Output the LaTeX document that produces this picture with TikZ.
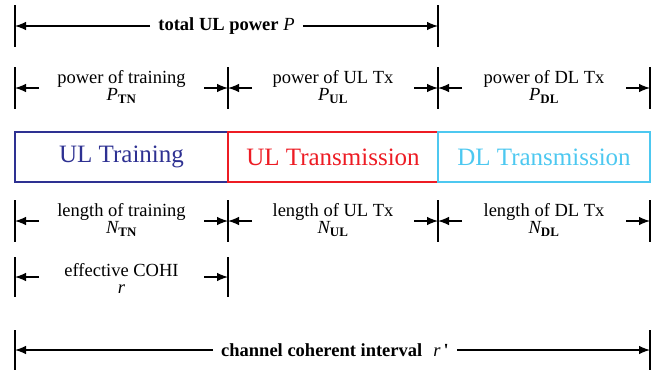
\documentclass[tikz,border=0pt]{standalone}
\usepackage{fontspec}
\setmainfont{Liberation Serif}
\usetikzlibrary{arrows.meta, positioning, calc}
\definecolor{trainblue}{RGB}{46,49,146}
\definecolor{ulred}{RGB}{237,28,36}
\definecolor{dlcyan}{RGB}{77,200,240}
\newcommand{\lblsize}{\fontsize{18.5}{17}\selectfont}
\newcommand{\segsize}{\fontsize{25}{28}\selectfont}
\tikzset{
  bound/.style={line width=1.8pt},
  arr/.style={-{Latex[length=11pt,width=8.5pt]}, line width=1.2pt},
  lbl/.style={align=center, font=\lblsize, inner sep=0pt},
  headlbl/.style={font=\lblsize\bfseries, inner sep=8pt},
  seg/.style={rectangle, line width=1.8pt, minimum height=50pt, font=\segsize, inner sep=0pt},
}
\begin{document}
\begin{tikzpicture}[x=1pt, y=-1pt]
  \useasboundingbox (0,0) rectangle (670,373);
  % segments
  \node[seg, draw=trainblue, text=trainblue, minimum width=213pt] (train) at (121.5,157) {UL Training};
  \node[seg, draw=ulred, text=ulred, minimum width=210pt] (ultx) at (333,157) {UL Transmission};
  \node[seg, draw=dlcyan, text=dlcyan, minimum width=212pt] (dltx) at (544,157) {DL Transmission};
  % total UL power
  \coordinate (ta) at (15,26);
  \coordinate (tb) at (438,26);
  \node[headlbl] (total) at (226.5,26) {total UL power $\mathit{P}$};
  \draw[bound] ([yshift=21pt]ta) -- ([yshift=-21pt]ta);
  \draw[bound] ([yshift=21pt]tb) -- ([yshift=-21pt]tb);
  \draw[arr] (total) -- (ta);
  \draw[arr] (total) -- (tb);
  % powers
  \coordinate (pa) at (15,88);
  \coordinate (pb) at (228,88);
  \coordinate (pc) at (438,88);
  \coordinate (pd) at (650,88);
  \node[lbl] (ptn) at (121.5,87) {power of training\\$\mathit{P}_{\mathbf{TN}}$};
  \node[lbl] (pul) at (333,87) {power of UL Tx\\$\mathit{P}_{\mathbf{UL}}$};
  \node[lbl] (pdl) at (544,87) {power of DL Tx\\$\mathit{P}_{\mathbf{DL}}$};
  \draw[bound] ([yshift=21pt]pa) -- ([yshift=-21pt]pa);
  \draw[bound] ([yshift=21pt]pb) -- ([yshift=-21pt]pb);
  \draw[bound] ([yshift=21pt]pc) -- ([yshift=-21pt]pc);
  \draw[bound] ([yshift=21pt]pd) -- ([yshift=-21pt]pd);
  \draw[arr] ([xshift=24pt]pa) -- (pa);
  \draw[arr] ([xshift=-24pt]pb) -- (pb);
  \draw[arr] ([xshift=24pt]pb) -- (pb);
  \draw[arr] ([xshift=-24pt]pc) -- (pc);
  \draw[arr] ([xshift=24pt]pc) -- (pc);
  \draw[arr] ([xshift=-24pt]pd) -- (pd);
  % lengths
  \coordinate (la) at (15,221);
  \coordinate (lb) at (228,221);
  \coordinate (lc) at (438,221);
  \coordinate (ld) at (650,221);
  \node[lbl] (ntn) at (121.5,220) {length of training\\$\mathit{N}_{\mathbf{TN}}$};
  \node[lbl] (nul) at (333,220) {length of UL Tx\\$\mathit{N}_{\mathbf{UL}}$};
  \node[lbl] (ndl) at (544,220) {length of DL Tx\\$\mathit{N}_{\mathbf{DL}}$};
  \draw[bound] ([yshift=21pt]la) -- ([yshift=-21pt]la);
  \draw[bound] ([yshift=21pt]lb) -- ([yshift=-21pt]lb);
  \draw[bound] ([yshift=21pt]lc) -- ([yshift=-21pt]lc);
  \draw[bound] ([yshift=21pt]ld) -- ([yshift=-21pt]ld);
  \draw[arr] ([xshift=24pt]la) -- (la);
  \draw[arr] ([xshift=-24pt]lb) -- (lb);
  \draw[arr] ([xshift=24pt]lb) -- (lb);
  \draw[arr] ([xshift=-24pt]lc) -- (lc);
  \draw[arr] ([xshift=24pt]lc) -- (lc);
  \draw[arr] ([xshift=-24pt]ld) -- (ld);
  % effective COHI
  \coordinate (ea) at (15,277);
  \coordinate (eb) at (228,277);
  \node[lbl] (cohi) at (121.5,278) {effective COHI\\$\mathit{r}$};
  \draw[bound] ([yshift=20pt]ea) -- ([yshift=-20pt]ea);
  \draw[bound] ([yshift=20pt]eb) -- ([yshift=-20pt]eb);
  \draw[arr] ([xshift=24pt]ea) -- (ea);
  \draw[arr] ([xshift=-24pt]eb) -- (eb);
  % channel coherent interval
  \coordinate (ca) at (15,350);
  \coordinate (cb) at (650,350);
  \node[headlbl] (coh) at (335,350) {channel coherent interval\hspace{0.6em}$\mathit{r}$\,\textquotesingle};
  \draw[bound] ([yshift=20pt]ca) -- ([yshift=-20pt]ca);
  \draw[bound] ([yshift=20pt]cb) -- ([yshift=-20pt]cb);
  \draw[arr] (coh) -- (ca);
  \draw[arr] (coh) -- (cb);
\end{tikzpicture}
\end{document}
